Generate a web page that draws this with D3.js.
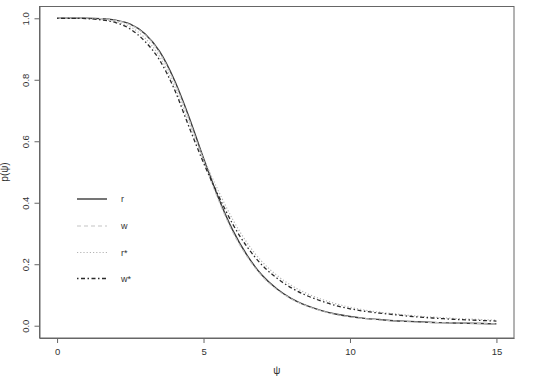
<!DOCTYPE html>
<html><head><meta charset="utf-8">
<script src="https://cdn.jsdelivr.net/npm/d3@7"></script>
<style>body{margin:0;background:#fff}svg{display:block}text{font-family:"Liberation Sans",Arial,sans-serif;fill:#333}</style>
</head><body><svg id="c" width="535" height="377"></svg>
<script>
const psi = [0,0.5,1,1.5,2,2.5,3,3.5,4,4.5,5,5.5,6,6.5,7,7.5,8,8.5,9,9.5,10,10.5,11,11.5,12,12.5,13,13.5,14,14.5,15];
const rVals = [1,1,1,0.999,0.994,0.981,0.950,0.892,0.800,0.680,0.545,0.418,0.310,0.227,0.164,0.120,0.088,0.066,0.050,0.038,0.030,0.024,0.020,0.016,0.014,0.012,0.010,0.009,0.008,0.007,0.006];
const wVals = [1,1,1,0.999,0.993,0.979,0.947,0.888,0.794,0.673,0.537,0.411,0.304,0.223,0.161,0.118,0.087,0.065,0.049,0.037,0.029,0.023,0.019,0.016,0.013,0.011,0.010,0.009,0.008,0.007,0.006];
const rStarVals = [1,1,0.999,0.996,0.989,0.972,0.936,0.876,0.782,0.662,0.545,0.440,0.345,0.268,0.208,0.164,0.131,0.106,0.087,0.072,0.060,0.051,0.044,0.039,0.034,0.030,0.027,0.024,0.022,0.020,0.018];
const wStarVals = [1,1,0.999,0.995,0.986,0.965,0.925,0.864,0.770,0.648,0.530,0.425,0.330,0.255,0.197,0.155,0.123,0.099,0.081,0.066,0.055,0.047,0.041,0.036,0.031,0.027,0.024,0.021,0.019,0.017,0.015];
const seriesNames = ["r","w","r*","w*"];
const xTicks = [0,5,10,15];
const yTicks = [0,0.2,0.4,0.6,0.8,1.0];
const yTickLabels = ["0.0","0.2","0.4","0.6","0.8","1.0"];

const series = [
  {name:seriesNames[0], vals:rVals, color:"#3a3a3a", dash:null, w:1.4},
  {name:seriesNames[1], vals:wVals, color:"#c4c4c4", dash:"4,3", w:1.1},
  {name:seriesNames[2], vals:rStarVals, color:"#b4b4b4", dash:"1.2,2", w:1.2},
  {name:seriesNames[3], vals:wStarVals, color:"#2a2a2a", dash:"1.5,2.5,4,2.5", w:1.3}
];

const svg = d3.select("#c");
const x = d3.scaleLinear().domain([-0.6,15.6]).range([39.5,514]);
const y = d3.scaleLinear().domain([-0.04,1.04]).range([338,6]);
const ink = "#333";

svg.append("rect").attr("x",39.5).attr("y",6.5).attr("width",474.5).attr("height",331.5)
  .attr("fill","none").attr("stroke","#666").attr("stroke-width",1);

const xa = svg.append("g").attr("transform","translate(0,338)")
  .call(d3.axisBottom(x).tickValues(xTicks).tickFormat(d3.format("d")).tickSize(5).tickPadding(5).tickSizeOuter(0));
xa.attr("font-family",null);
xa.select(".domain").attr("stroke","#666");
xa.selectAll(".tick line").attr("stroke","#666");
xa.selectAll("text").style("fill",ink).style("font-size","9.5px");

const ya = svg.append("g").attr("transform","translate(39.5,0)")
  .call(d3.axisLeft(y).tickValues(yTicks).tickFormat((d,i)=>yTickLabels[i]).tickSize(5).tickSizeOuter(0));
ya.attr("font-family",null);
ya.select(".domain").attr("stroke","#666");
ya.selectAll(".tick line").attr("stroke","#666");
ya.selectAll("text").style("fill",ink).style("font-size","9.5px")
  .attr("transform","translate(-14,0) rotate(-90)").attr("x",0).attr("dy","0.35em").attr("text-anchor","middle");

svg.append("text").attr("x",x(7.5)).attr("y",374).attr("text-anchor","middle")
  .style("fill",ink).style("font-size","10px").text("ψ");
svg.append("text").attr("transform","translate(8,"+y(0.5)+") rotate(-90)").attr("text-anchor","middle")
  .style("fill",ink).style("font-size","10px").text("p(ψ)");

const line = d3.line().x((d,i)=>x(psi[i])).y(d=>y(d)).curve(d3.curveMonotoneX);
series.forEach(s=>{
  svg.append("path").attr("d",line(s.vals)).attr("fill","none")
    .attr("stroke",s.color).attr("stroke-width",s.w)
    .attr("stroke-dasharray",s.dash);
});

const legY = [199,226,252.5,278.5];
series.forEach((s,i)=>{
  svg.append("line").attr("x1",77).attr("x2",107).attr("y1",legY[i]).attr("y2",legY[i])
    .attr("stroke",s.color).attr("stroke-width",s.w).attr("stroke-dasharray",s.dash);
  svg.append("text").attr("x",121).attr("y",legY[i]).attr("dy","0.35em")
    .style("fill",ink).style("font-size","9px").text(s.name);
});
</script></body></html>
